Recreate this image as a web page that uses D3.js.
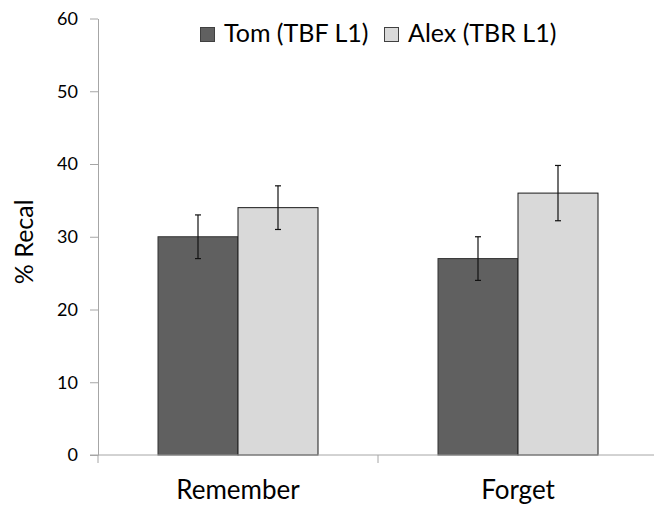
<!DOCTYPE html>
<html>
<head>
<meta charset="utf-8">
<script src="https://cdn.jsdelivr.net/npm/d3@7/dist/d3.min.js"></script>
<style>
  html, body { margin: 0; padding: 0; background: #fff; }
  svg { display: block; font-family: Lato, "Open Sans", sans-serif; }
</style>
</head>
<body>
<svg id="chart" width="654" height="513"></svg>
<script>
const categories = ["Remember", "Forget"];
const seriesNames = ["Tom (TBF L1)", "Alex (TBR L1)"];
const tomValues = [30, 27];
const alexValues = [34, 36];
const tomErrors = [3, 3];
const alexErrors = [3, 3.8];
const yTicks = [0, 10, 20, 30, 40, 50, 60];
const colors = ["#606060", "#d9d9d9"];
const strokes = ["#333333", "#1a1a1a"];

const values = [tomValues, alexValues];
const errors = [tomErrors, alexErrors];

const svg = d3.select("#chart");
const mLeft = 98, mRight = 658, mTop = 18.5, mBottom = 455;

const x0 = d3.scaleBand().domain(categories).range([mLeft, mRight]).paddingInner(0).paddingOuter(0);
const x1 = d3.scaleBand().domain(seriesNames).range([0, x0.bandwidth()]).paddingInner(0).paddingOuter(0.75);
const y = d3.scaleLinear().domain([0, 60]).range([mBottom, mTop]);

// Y axis
const yAxis = svg.append("g").attr("transform", `translate(${mLeft},0)`)
  .call(d3.axisLeft(y).tickValues(yTicks).tickSize(8).tickPadding(12).tickSizeOuter(0));
yAxis.select(".domain").attr("stroke", "#a6a6a6");
yAxis.selectAll(".tick line").attr("stroke", "#a6a6a6");
yAxis.selectAll(".tick text").attr("font-size", 18).attr("fill", "#000").attr("font-family", "Lato");

// Bars
const groups = svg.append("g").selectAll("g").data(categories).join("g")
  .attr("transform", d => `translate(${x0(d)},0)`);

seriesNames.forEach((s, si) => {
  groups.append("rect")
    .attr("x", x1(s))
    .attr("width", x1.bandwidth())
    .attr("y", (d, ci) => y(values[si][ci]))
    .attr("height", (d, ci) => mBottom - y(values[si][ci]))
    .attr("fill", colors[si])
    .attr("stroke", strokes[si])
    .attr("stroke-width", 1);
});

// Error bars
seriesNames.forEach((s, si) => {
  const cx = x1(s) + x1.bandwidth() / 2;
  const eg = groups.append("g").attr("stroke", "#111").attr("stroke-width", 1.2);
  eg.append("line")
    .attr("x1", cx).attr("x2", cx)
    .attr("y1", (d, ci) => y(values[si][ci] + errors[si][ci]))
    .attr("y2", (d, ci) => y(values[si][ci] - errors[si][ci]));
  eg.append("line")
    .attr("x1", cx - 3).attr("x2", cx + 3)
    .attr("y1", (d, ci) => y(values[si][ci] + errors[si][ci]))
    .attr("y2", (d, ci) => y(values[si][ci] + errors[si][ci]));
  eg.append("line")
    .attr("x1", cx - 3).attr("x2", cx + 3)
    .attr("y1", (d, ci) => y(values[si][ci] - errors[si][ci]))
    .attr("y2", (d, ci) => y(values[si][ci] - errors[si][ci]));
});

// X axis
const xAxisG = svg.append("g").attr("transform", `translate(0,${mBottom})`);
xAxisG.append("line").attr("x1", mLeft - 8).attr("x2", mRight).attr("y1", 0).attr("y2", 0).attr("stroke", "#a6a6a6");
const boundaries = [mLeft].concat(categories.map(c => x0(c) + x0.bandwidth()));
xAxisG.selectAll("line.tk").data(boundaries).join("line").attr("class", "tk")
  .attr("x1", d => d).attr("x2", d => d).attr("y1", 0).attr("y2", 8).attr("stroke", "#a6a6a6");
xAxisG.selectAll("text").data(categories).join("text")
  .attr("x", d => x0(d) + x0.bandwidth() / 2)
  .attr("y", 44)
  .attr("text-anchor", "middle")
  .attr("font-size", 26)
  .attr("fill", "#000")
  .text(d => d);

// Y label
svg.append("text")
  .attr("transform", `translate(33,${(mTop + mBottom) / 2 + 5}) rotate(-90)`)
  .attr("text-anchor", "middle")
  .attr("font-size", 25)
  .attr("fill", "#000")
  .text("% Recal");

// Legend
const legendX = [200, 384];
const lg = svg.append("g");
seriesNames.forEach((s, si) => {
  lg.append("rect").attr("x", legendX[si] + 0.5).attr("y", 27.5).attr("width", 14).attr("height", 14)
    .attr("fill", colors[si]).attr("stroke", "#404040").attr("stroke-width", 1);
  lg.append("text").attr("x", legendX[si] + 24).attr("y", 42)
    .attr("font-size", 25).attr("fill", "#000").text(s);
});
</script>
</body>
</html>
